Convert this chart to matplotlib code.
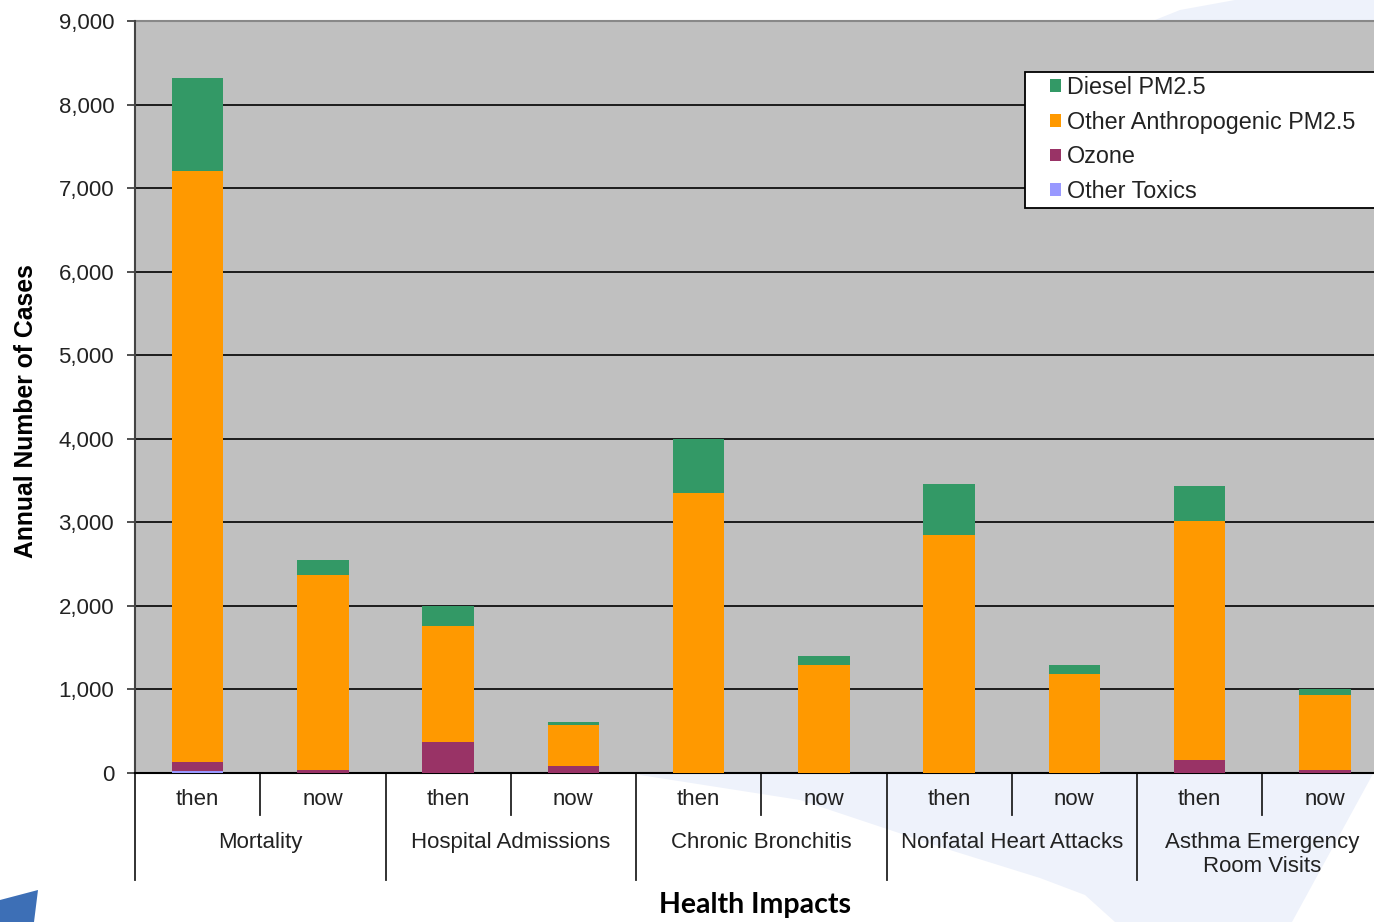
import matplotlib
matplotlib.use("Agg")
import matplotlib.pyplot as plt
import matplotlib.transforms as mtransforms
from matplotlib.patches import Polygon, Rectangle
import numpy as np

groups = ["Mortality", "Hospital Admissions", "Chronic Bronchitis",
          "Nonfatal Heart Attacks", "Asthma Emergency\nRoom Visits"]
periods = ["then", "now"]

other_toxics = [25, 0, 0, 0, 0, 0, 0, 0, 0, 0]
ozone = [110, 35, 370, 80, 0, 0, 0, 0, 155, 35]
other_pm = [7070, 2335, 1390, 490, 3350, 1290, 2850, 1185, 2860, 900]
diesel = [1115, 180, 240, 40, 650, 110, 610, 105, 420, 70]

series = [("Other Toxics", other_toxics, "#9999FF"),
          ("Ozone", ozone, "#993366"),
          ("Other Anthropogenic PM2.5", other_pm, "#FF9900"),
          ("Diesel PM2.5", diesel, "#339966")]

plt.rcParams['font.family'] = ['Liberation Sans', 'DejaVu Sans']

W, H = 1374, 922
fig = plt.figure(figsize=(W / 100, H / 100), dpi=100)
fig.patch.set_facecolor("white")

# background layer (pixel coordinates, y downwards): faint swoosh and logo fragment
bg = fig.add_axes([0, 0, 1, 1], zorder=-10)
bg.set_xlim(0, W)
bg.set_ylim(H, 0)
bg.axis("off")
swoosh = "#eef2fb"
bg.add_patch(Polygon([(640, 775), (800, 800), (950, 850), (1040, 878), (1085, 895),
                      (1115, 922), (1292, 922), (1374, 772), (1374, 760), (640, 760)],
                     closed=True, facecolor=swoosh, edgecolor="none"))
bg.add_patch(Polygon([(1150, 22), (1374, 22), (1374, 0), (1235, 0), (1180, 10)],
                     closed=True, facecolor=swoosh, edgecolor="none"))
bg.add_patch(Polygon([(0, 922), (34, 922), (38, 890), (0, 900)], closed=True,
                     facecolor="#3d6fb6", edgecolor="none"))

left, bottom = 135 / W, (H - 773) / H
width, height = 1252.5 / W, 752 / H
ax = fig.add_axes([left, bottom, width, height])
ax.set_facecolor("#C0C0C0")

x = np.arange(len(other_pm))
base = np.zeros(len(x))
handles = {}
for name, vals, col in series:
    vals = np.array(vals, dtype=float)
    b = ax.bar(x, vals, width=0.41, bottom=base, color=col, zorder=3, label=name)
    handles[name] = b
    base += vals

ax.set_xlim(-0.5, len(x) - 0.5)
ax.set_ylim(0, 9000)
ax.set_yticks(np.arange(0, 9001, 1000))
ax.set_yticklabels([f"{v:,}" for v in range(0, 9001, 1000)], fontsize=16, color="#222222")
ax.yaxis.grid(True, color="black", linewidth=1.2, zorder=1)
ax.set_axisbelow(True)
ax.tick_params(axis="y", direction="out", length=6, width=1.2, color="#333333", pad=9)
ax.set_xticks([])
for s in ["top", "right"]:
    ax.spines[s].set_visible(False)
ax.spines["left"].set_color("#444444")
ax.spines["left"].set_linewidth(1.5)
ax.spines["bottom"].set_color("black")
ax.spines["bottom"].set_linewidth(1.5)
ax.axhline(9000, color="#888888", linewidth=1.5, zorder=2, clip_on=False)

# multi-level category axis
trans = mtransforms.blended_transform_factory(ax.transData, ax.transAxes)
short = 42 / 752
long_ = 107 / 752
for i in range(len(x) + 1):
    bnd = i - 0.5
    ln = long_ if i % 2 == 0 else short
    ax.plot([bnd, bnd], [0, -ln], transform=trans, color="#222222", lw=1.3, clip_on=False)
for i in range(len(x)):
    ax.text(i, -26 / 752, periods[i % 2], transform=trans, ha="center", va="center",
            fontsize=16, color="#222222")
for g, name in enumerate(groups):
    ax.text(2 * g + 0.5, -59 / 752, name, transform=trans, ha="center", va="top",
            fontsize=16, color="#222222", linespacing=1.2)

ax.set_ylabel("Annual Number of Cases", fontsize=17.8, fontweight="bold")
ax.yaxis.set_label_coords((38 - 135) / 1252.5, (773 - 411) / 752)
fig.text(755 / W, 1 - 905 / H, "Health Impacts", ha="center", va="center",
         fontsize=20.5, fontweight="bold", family=["Lato", "DejaVu Sans"])

# legend frame drawn by hand (it runs past the right edge of the figure)
def ax_pt(px, py):
    return ((px - 135) / 1252.5, (773 - py) / 752)

fx0, fy1 = ax_pt(1025, 72)
fx1, fy0 = ax_pt(1400, 208)
ax.add_patch(Rectangle((fx0, fy0), fx1 - fx0, fy1 - fy0, transform=ax.transAxes,
                       facecolor="white", edgecolor="black", linewidth=1.3,
                       zorder=4, clip_on=False))
order = ["Diesel PM2.5", "Other Anthropogenic PM2.5", "Ozone", "Other Toxics"]
leg = ax.legend([handles[n] for n in order], order, loc="upper left",
                bbox_to_anchor=ax_pt(1050, 76), frameon=False,
                fontsize=16.8, handlelength=0.45, handleheight=0.45, handletextpad=0.28,
                labelspacing=0.5, borderpad=0, borderaxespad=0)
for t in leg.get_texts():
    t.set_color("#222222")
leg.set_zorder(5)

fig.savefig("out.png", dpi=100, facecolor=fig.get_facecolor())
